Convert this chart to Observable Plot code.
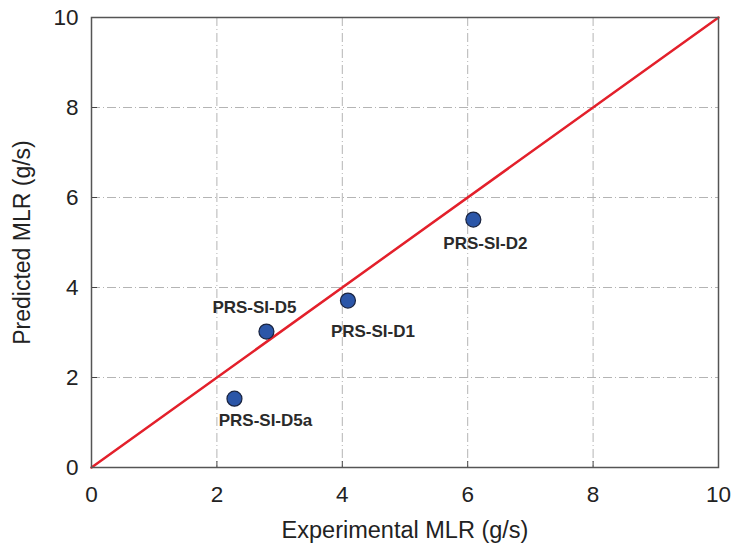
<!DOCTYPE html>
<html>
<head>
<meta charset="utf-8">
<script src="https://cdn.jsdelivr.net/npm/d3@7"></script>
<script src="https://cdn.jsdelivr.net/npm/@observablehq/plot@0.6"></script>
<style>
  html, body { margin: 0; padding: 0; background: #fff; }
  #chart svg { display: block; }
</style>
</head>
<body>
<div id="chart"></div>
<script>
const names = ["PRS-SI-D2", "PRS-SI-D1", "PRS-SI-D5", "PRS-SI-D5a"];
const experimental = [6.09, 4.09, 2.79, 2.28];
const predicted = [5.51, 3.71, 3.02, 1.53];
const ticks = [0, 2, 4, 6, 8, 10];
const parity = [0, 10];

// label placement (layout only)
const labelDx = [12, 25, -12, 31];
const labelDy = [24, 31, -24, 22];

const points = names.map((n, i) => ({name: n, x: experimental[i], y: predicted[i], dx: labelDx[i], dy: labelDy[i]}));

const font = "Liberation Sans, Arial, Helvetica, sans-serif";

const chart = Plot.plot({
  width: 736,
  height: 556,
  marginLeft: 91,
  marginRight: 18,
  marginTop: 17,
  marginBottom: 89,
  style: {fontFamily: font, fontSize: "22.5px", color: "#222", background: "#fff"},
  x: {domain: [0, 10], ticks: ticks},
  y: {domain: [0, 10], ticks: ticks},
  marks: [
    Plot.gridX(ticks, {stroke: "#b4b4b4", strokeOpacity: 1, strokeWidth: 1, strokeDasharray: "9,3,1,3"}),
    Plot.gridY(ticks, {stroke: "#b4b4b4", strokeOpacity: 1, strokeWidth: 1, strokeDasharray: "9,3,1,3"}),
    Plot.axisX(ticks, {tickSize: -6, tickPadding: 25, stroke: "#444", fill: "#222", fontSize: 22.5, label: null}),
    Plot.axisY(ticks, {tickSize: -6, tickPadding: 19, stroke: "#444", fill: "#222", fontSize: 22.5, label: null}),
    Plot.text(["Experimental MLR (g/s)"], {frameAnchor: "bottom", textAnchor: "middle", dy: 70, fontSize: 23.5, fill: "#222"}),
    Plot.text(["Predicted MLR (g/s)"], {frameAnchor: "left", textAnchor: "middle", dx: -69, rotate: -90, fontSize: 23, fill: "#222"}),
    Plot.line(parity.map(v => ({x: v, y: v})), {x: "x", y: "y", stroke: "#e3202b", strokeWidth: 2.5}),
    Plot.dot(points, {x: "x", y: "y", r: 7.5, fill: "#2b56a8", stroke: "#1a2440", strokeWidth: 1.2}),
    ...points.map(p => Plot.text([p], {x: "x", y: "y", text: "name", dx: p.dx, dy: p.dy, fontSize: 17, fontWeight: "bold", fill: "#2a2a2a"})),
    Plot.frame({stroke: "#555", strokeWidth: 1.5})
  ]
});
document.getElementById("chart").append(chart);
</script>
</body>
</html>
